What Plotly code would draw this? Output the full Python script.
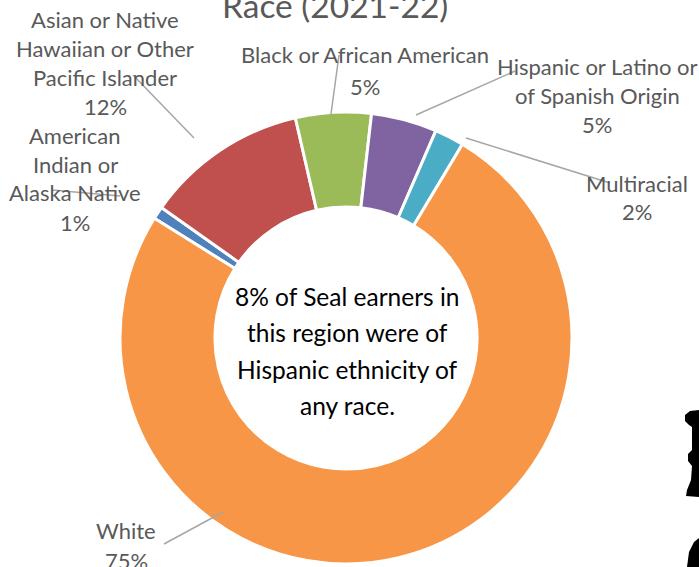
import plotly.graph_objects as go

W, H = 699, 567

# ---- data ----
categories = [
    "American Indian or Alaska Native",
    "Asian or Native Hawaiian or Other Pacific Islander",
    "Black or African American",
    "Hispanic or Latino or of Spanish Origin",
    "Multiracial",
    "White",
]
values = [0.9, 11.6, 5.4, 4.7, 2.1, 75.2]
pct_labels = ["1%", "12%", "5%", "5%", "2%", "75%"]
label_lines = [
    ["American", "Indian or", "Alaska Native"],
    ["Asian or Native", "Hawaiian or Other", "Pacific Islander"],
    ["Black or African American"],
    ["Hispanic or Latino or", "of Spanish Origin"],
    ["Multiracial"],
    ["White"],
]
colors = ["#4F81BD", "#C0504D", "#9BBB59", "#8064A2", "#4BACC6", "#F79646"]
center_lines = ["8% of Seal earners in", "this region were of",
                "Hispanic ethnicity of", "any race."]
title_text = "Race (2021-22)"

# ---- layout helpers (pixel -> paper) ----
def px(x):
    return x / W

def py(y):
    return 1 - y / H

FONT = "Lato"
GREY = "#595959"
LINE = "#A6A6A6"

fig = go.Figure()
fig.add_trace(go.Pie(
    labels=categories,
    values=values,
    sort=False,
    direction="clockwise",
    rotation=-58,
    hole=0.58,
    marker=dict(colors=colors, line=dict(color="white", width=3)),
    textinfo="none",
    hoverinfo="label+percent",
    domain=dict(x=[px(120), px(572)], y=[py(564), py(112)]),
    showlegend=False,
))

annotations = []

def add_lines(lines, cx, y0, dy, size, color):
    for i, t in enumerate(lines):
        annotations.append(dict(
            x=px(cx), y=py(y0 + i * dy), xref="paper", yref="paper",
            text=t, showarrow=False, xanchor="center", yanchor="middle",
            font=dict(family=FONT, size=size, color=color),
        ))

# label placements: (center x, first line y, line spacing)
label_pos = [
    (75, 135, 29),
    (105, 19, 29.3),
    (365, 54, 32),
    (597, 66, 29),
    (637, 183, 28),
    (126, 530, 30),
]
for lines, pct, (cx, y0, dy) in zip(label_lines, pct_labels, label_pos):
    add_lines(lines + [pct], cx, y0, dy, 22, GREY)

# center text
add_lines(center_lines, 347, 296, 36.5, 24.5, "black")

# title (partially clipped at top)
annotations.append(dict(
    x=px(335), y=py(5), xref="paper", yref="paper", text=title_text,
    showarrow=False, xanchor="center", yanchor="middle",
    font=dict(family=FONT, size=33.5, color=GREY),
))

# leader lines
leaders = [
    ((52, 190), (120, 196)),
    ((133, 75), (194, 138)),
    ((339, 55), (331, 114)),
    ((515, 71), (416, 115)),
    ((466, 138), (610, 183)),
    ((164, 544), (223, 512)),
]
shapes = []
for (x0, y0), (x1, y1) in leaders:
    shapes.append(dict(type="line", xref="paper", yref="paper",
                       x0=px(x0), y0=py(y0), x1=px(x1), y1=py(y1),
                       line=dict(color=LINE, width=1.5)))

# partial black silhouette at right edge
def path(points):
    return "M " + " L ".join(f"{px(x)},{py(y)}" for x, y in points) + " Z"

sil1 = [(699, 410), (690, 411), (685, 415), (685, 421), (689, 425), (692, 427),
        (692, 450), (688, 454), (688, 461), (692, 466), (691, 480), (687, 490),
        (686, 496), (699, 497)]
sil2 = [(699, 538), (694, 542), (689, 552), (687, 567), (699, 567)]
for s in (sil1, sil2):
    shapes.append(dict(type="path", xref="paper", yref="paper", path=path(s),
                       fillcolor="black", line=dict(width=0)))

fig.update_layout(
    width=W, height=H,
    margin=dict(l=0, r=0, t=0, b=0),
    paper_bgcolor="white", plot_bgcolor="white",
    annotations=annotations, shapes=shapes,
    showlegend=False,
)

fig.write_html("out.html")
